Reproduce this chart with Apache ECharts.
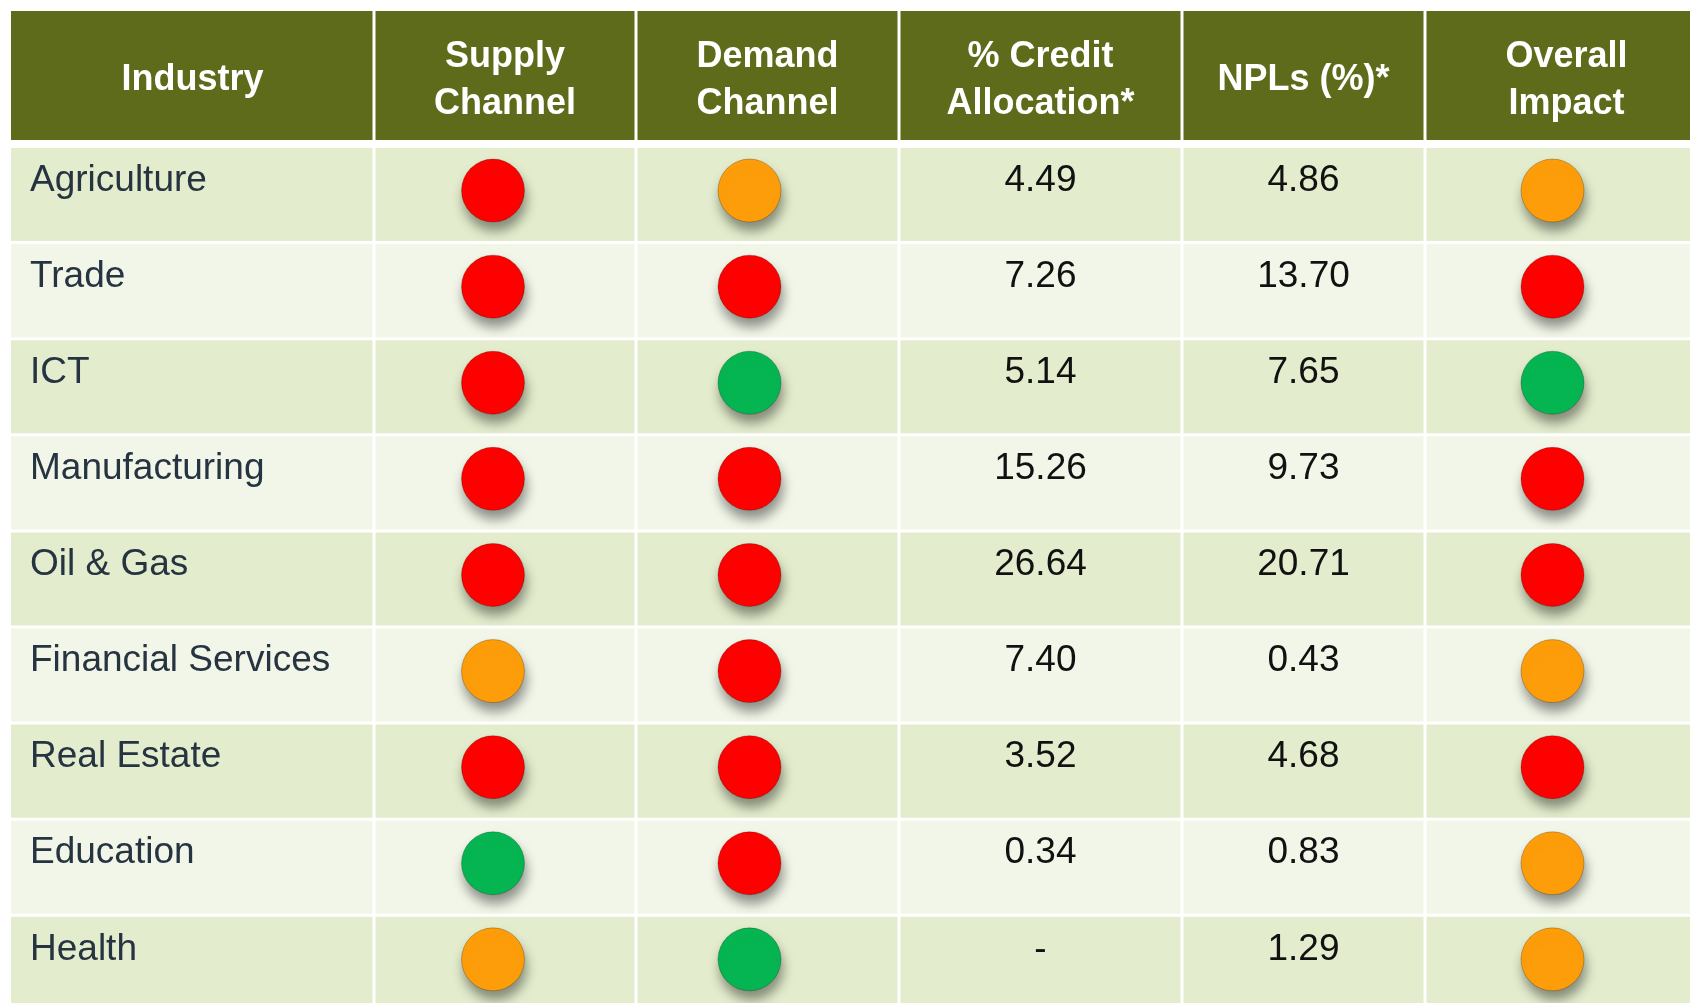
<!DOCTYPE html>
<html>
<head>
<meta charset="utf-8">
<title>Industry impact</title>
<script src="https://cdn.jsdelivr.net/npm/echarts@6/dist/echarts.min.js"></script>
<style>
  html, body { margin: 0; padding: 0; background: #fff; overflow: hidden; }
  #chart { width: 1720px; height: 1016px; }
</style>
</head>
<body>
<div id="chart"></div>
<script>
// table data
const headers = ['Industry', 'Supply\nChannel', 'Demand\nChannel', '% Credit\nAllocation*', 'NPLs (%)*', 'Overall\nImpact']
const industries = ['Agriculture', 'Trade', 'ICT', 'Manufacturing', 'Oil & Gas', 'Financial Services', 'Real Estate', 'Education', 'Health']
const supplyChannel = ['High', 'High', 'High', 'High', 'High', 'Medium', 'High', 'Low', 'Medium']
const demandChannel = ['Medium', 'High', 'Low', 'High', 'High', 'High', 'High', 'High', 'Low']
const creditAllocation = [4.49, 7.26, 5.14, 15.26, 26.64, 7.40, 3.52, 0.34, null]
const npls = [4.86, 13.70, 7.65, 9.73, 20.71, 0.43, 4.68, 0.83, 1.29]
const overallImpact = ['Medium', 'High', 'Low', 'High', 'High', 'Medium', 'High', 'Medium', 'Medium']

// layout / style (last column runs past the page edge)
const levelColor = { High: '#fe0000', Medium: '#fd9d0a', Low: '#04b551' }
const colEdges = [0, 363, 625, 888, 1171, 1414, 1697]
const dotShift = [0, -12, -18, 0, 0, -14]
const TABLE_W = colEdges[colEdges.length - 1]
const FONT = 'Liberation Sans, Arial, sans-serif'

const chart = echarts.init(document.getElementById('chart'))

/** text shown in a body cell */
function cellText(col, row) {
  if (col === 0) return industries[row]
  if (col === 3) return creditAllocation[row] == null ? '-' : creditAllocation[row].toFixed(2)
  if (col === 4) return npls[row].toFixed(2)
  return ''
}

function cellX(col, x0, x1) {
  return [x0 + (col > 0 ? 1.5 : 0), x1 - (col < headers.length - 1 ? 1.5 : 0)]
}

function renderHeader(params, api) {
  const col = api.value(0)
  const p0 = api.coord([colEdges[col], 0])
  const p1 = api.coord([colEdges[col + 1], 0])
  const h = api.size([0, 1])[1]
  const top = p0[1] - h / 2
  const [x0, x1] = cellX(col, p0[0], p1[0])
  return {
    type: 'group',
    children: [
      { type: 'rect', shape: { x: x0, y: top, width: x1 - x0, height: h }, style: { fill: '#5e6b1a' } },
      {
        type: 'text',
        style: {
          text: headers[col], x: (p0[0] + p1[0]) / 2, y: top + h / 2 + 5,
          align: 'center', verticalAlign: 'middle', fill: '#fff',
          fontSize: 36, fontWeight: 'bold', fontFamily: FONT, lineHeight: 47
        }
      }
    ]
  }
}

function renderBody(params, api) {
  const col = api.value(0)
  const row = api.value(1)
  const p0 = api.coord([colEdges[col], row])
  const p1 = api.coord([colEdges[col + 1], row])
  const h = api.size([0, 1])[1]
  const top = p0[1] - h / 2
  const [x0, x1] = cellX(col, p0[0], p1[0])
  const children = [{
    type: 'rect',
    shape: { x: x0, y: top + 1.5, width: x1 - x0, height: h - 3 },
    style: { fill: row % 2 === 0 ? '#e3edcd' : '#f1f6e8' }
  }]
  const text = cellText(col, row)
  if (text) {
    children.push({
      type: 'text',
      style: {
        text, x: col === 0 ? p0[0] + 19 : (p0[0] + p1[0]) / 2, y: top + 34,
        align: col === 0 ? 'left' : 'center', verticalAlign: 'middle',
        fill: col === 0 ? '#263340' : '#111', fontSize: 37, fontFamily: FONT
      }
    })
  }
  return { type: 'group', children }
}

function dotSeries(col, levels) {
  const x = (colEdges[col] + colEdges[col + 1]) / 2 + dotShift[col]
  return {
    type: 'scatter',
    xAxisIndex: 1,
    yAxisIndex: 1,
    symbol: 'circle',
    symbolSize: 63,
    symbolOffset: [0, -4],
    silent: true,
    z: 5,
    data: levels.map((level, i) => ({
      value: [x, i],
      itemStyle: {
        color: levelColor[level],
        opacity: 1,
        borderColor: 'rgba(0,0,0,0.22)',
        borderWidth: 1,
        shadowBlur: 12,
        shadowOffsetX: 2,
        shadowOffsetY: 9,
        shadowColor: 'rgba(0,0,0,0.42)'
      }
    }))
  }
}

const headerCells = headers.map((h, c) => [c, 0])
const bodyCells = []
industries.forEach((name, r) => {
  headers.forEach((h, c) => bodyCells.push([c, r]))
})

const option = {
  animation: false,
  grid: [
    { left: 11, width: TABLE_W, top: 11, height: 129 },
    { left: 11, width: TABLE_W, top: 146.5, height: 9 * 96.1 }
  ],
  xAxis: [
    { type: 'value', gridIndex: 0, min: 0, max: TABLE_W, show: false },
    { type: 'value', gridIndex: 1, min: 0, max: TABLE_W, show: false }
  ],
  yAxis: [
    { type: 'category', gridIndex: 0, data: ['header'], show: false },
    { type: 'category', gridIndex: 1, data: industries, inverse: true, show: false }
  ],
  series: [
    {
      type: 'custom', xAxisIndex: 0, yAxisIndex: 0, silent: true, clip: false,
      renderItem: renderHeader, data: headerCells
    },
    {
      type: 'custom', xAxisIndex: 1, yAxisIndex: 1, silent: true, clip: false,
      renderItem: renderBody, data: bodyCells
    },
    dotSeries(1, supplyChannel),
    dotSeries(2, demandChannel),
    dotSeries(5, overallImpact)
  ]
}

chart.setOption(option)
</script>
</body>
</html>
